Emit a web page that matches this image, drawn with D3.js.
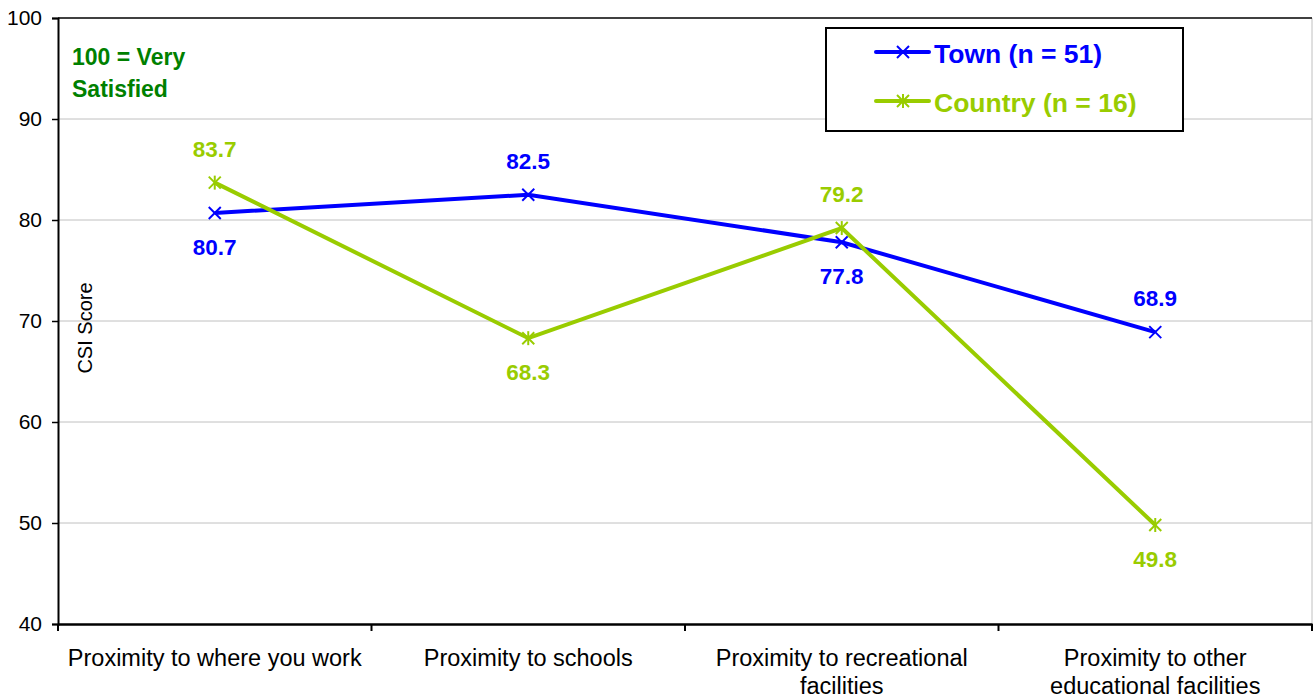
<!DOCTYPE html>
<html><head><meta charset="utf-8">
<script src="https://cdn.jsdelivr.net/npm/d3@7"></script>
<style>body{margin:0;background:#fff}svg{display:block;font-family:Arial,"Liberation Sans",sans-serif}</style>
</head><body>
<svg id="c" width="1314" height="700"></svg>
<script>
const categories = [["Proximity to where you work"],["Proximity to schools"],["Proximity to recreational","facilities"],["Proximity to other","educational facilities"]];
const townValues = [80.7, 82.5, 77.8, 68.9];
const countryValues = [83.7, 68.3, 79.2, 49.8];
const yTicks = [40,50,60,70,80,90,100];
const townLabelPos = ["below","above","below","above"];
const countryLabelPos = ["above","below","above","below"];
const series = [
  {name:"Town (n = 51)", values:townValues, color:"#0000ff", marker:"x", pos:townLabelPos},
  {name:"Country (n = 16)", values:countryValues, color:"#99cc00", marker:"star", pos:countryLabelPos}
];

const svg = d3.select("#c");
const L=58, R=1312, T=18, B=624;
const x = d3.scaleBand().domain(d3.range(categories.length)).range([L,R]);
const y = d3.scaleLinear().domain([40,100]).range([B,T]);

// gridlines
svg.append("g").selectAll("line").data(yTicks.filter(d=>d>40&&d<100)).join("line")
  .attr("x1",L).attr("x2",R).attr("y1",d=>y(d)).attr("y2",d=>y(d))
  .attr("stroke","#c0c0c0").attr("stroke-width",1);
// right border
svg.append("line").attr("x1",R).attr("x2",R).attr("y1",T).attr("y2",B).attr("stroke","#c0c0c0");
// top border
svg.append("line").attr("x1",L).attr("x2",R).attr("y1",T).attr("y2",T).attr("stroke","#000").attr("stroke-width",1.5);

// y axis
const ya = svg.append("g").attr("transform",`translate(${L},0)`)
  .call(d3.axisLeft(y).tickValues(yTicks).tickSize(6).tickPadding(10));
ya.select(".domain").attr("stroke","#000").attr("stroke-width",2);
ya.selectAll(".tick line").attr("stroke","#000").attr("stroke-width",1.5);
ya.selectAll(".tick text").attr("font-size",21).attr("fill","#000").attr("font-family","Arial");

// x axis
const xa = svg.append("g").attr("transform",`translate(0,${B})`)
  .call(d3.axisBottom(x).tickSize(0).tickFormat(""));
xa.select(".domain").attr("stroke","#000").attr("stroke-width",2.5);
const bounds = d3.range(categories.length+1).map(i=> i<categories.length ? x(i) : x(i-1)+x.bandwidth());
svg.append("g").selectAll("line").data(bounds).join("line")
  .attr("x1",d=>d).attr("x2",d=>d).attr("y1",B).attr("y2",B+7).attr("stroke","#000").attr("stroke-width",2);
const catG = svg.append("g").selectAll("text").data(categories).join("text")
  .attr("x",(d,i)=>x(i)+x.bandwidth()/2).attr("y",666)
  .attr("text-anchor","middle").attr("font-size",23.5).attr("fill","#000");
catG.selectAll("tspan").data(d=>d).join("tspan")
  .attr("x",function(){return this.parentNode.getAttribute("x");})
  .attr("dy",(d,i)=>i===0?0:28).text(d=>d);

// y label
svg.append("text").attr("transform",`translate(92,328) rotate(-90)`).attr("text-anchor","middle")
  .attr("font-size",20).attr("fill","#000").text("CSI Score");

// annotation
svg.append("text").attr("x",72).attr("y",65).attr("font-size",23).attr("font-weight","bold").attr("fill","#008000").text("100 = Very");
svg.append("text").attr("x",72).attr("y",97).attr("font-size",23).attr("font-weight","bold").attr("fill","#008000").text("Satisfied");

const cx = i => x(i)+x.bandwidth()/2;
function drawMarker(g, type, px, py, color){
  const s=6;
  g.append("line").attr("x1",px-s).attr("y1",py-s).attr("x2",px+s).attr("y2",py+s).attr("stroke",color).attr("stroke-width",2);
  g.append("line").attr("x1",px-s).attr("y1",py+s).attr("x2",px+s).attr("y2",py-s).attr("stroke",color).attr("stroke-width",2);
  if(type==="star"){
    g.append("line").attr("x1",px).attr("y1",py-s-1).attr("x2",px).attr("y2",py+s+1).attr("stroke",color).attr("stroke-width",2);
  }
}
const line = d3.line().x((d,i)=>cx(i)).y(d=>y(d));
series.forEach(s=>{
  const g = svg.append("g");
  g.append("path").datum(s.values).attr("d",line).attr("fill","none").attr("stroke",s.color).attr("stroke-width",4);
  s.values.forEach((v,i)=>drawMarker(g,s.marker,cx(i),y(v),s.color));
  g.selectAll("text").data(s.values).join("text")
    .attr("x",(d,i)=>cx(i)).attr("y",(d,i)=>y(d)+(s.pos[i]==="above"?-26:42))
    .attr("text-anchor","middle").attr("font-size",22.5).attr("font-weight","bold").attr("fill",s.color)
    .text(d=>d.toFixed(1));
});

// legend
const lg = svg.append("g");
lg.append("rect").attr("x",826).attr("y",28).attr("width",357).attr("height",103).attr("fill","#fff").attr("stroke","#000").attr("stroke-width",2);
series.forEach((s,i)=>{
  const ly = 52 + i*49;
  lg.append("line").attr("x1",876).attr("x2",929).attr("y1",ly).attr("y2",ly).attr("stroke",s.color).attr("stroke-width",4).attr("stroke-linecap","round");
  drawMarker(lg,s.marker,903,ly,s.color);
  lg.append("text").attr("x",934).attr("y",ly+11).attr("font-size",26.5).attr("font-weight","bold").attr("fill",s.color).text(s.name);
});
</script>
</body></html>
